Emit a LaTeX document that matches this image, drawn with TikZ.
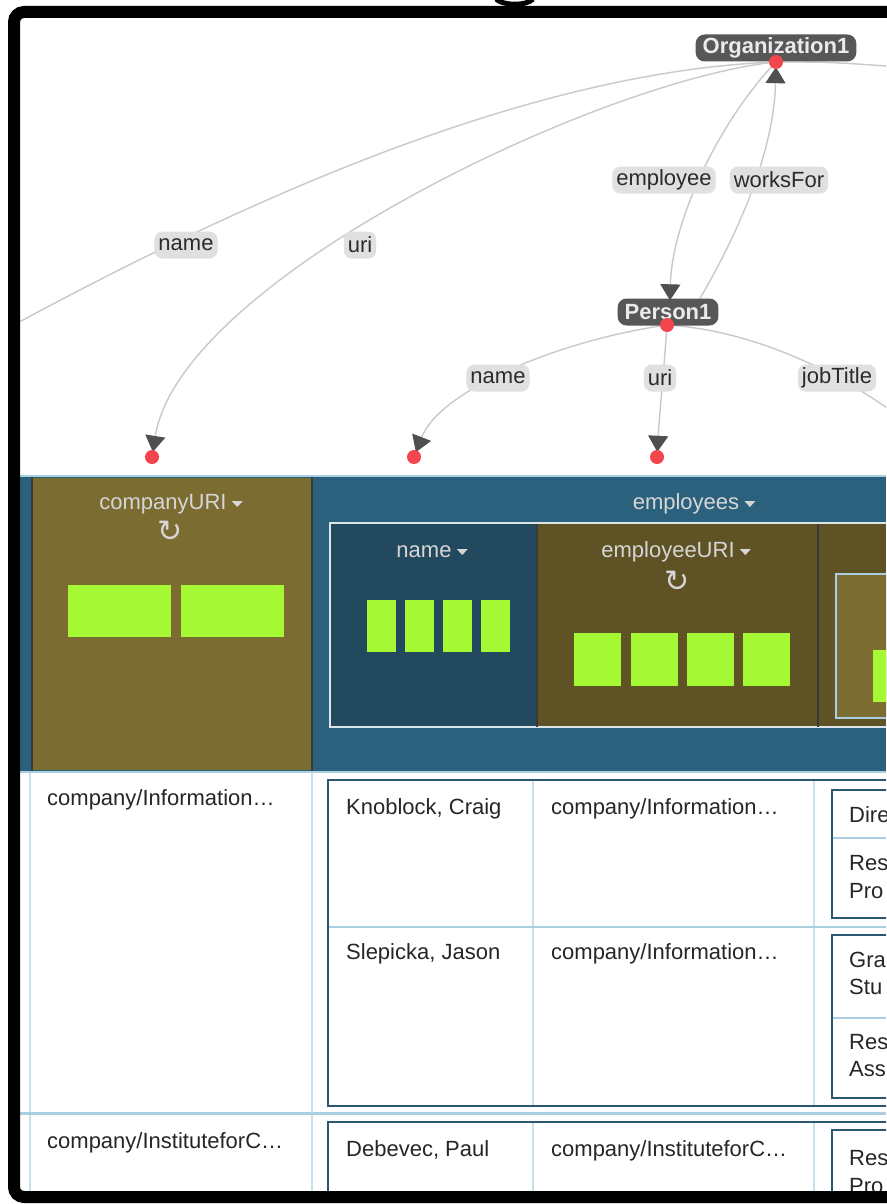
\documentclass[tikz,border=0pt]{standalone}
\usepackage{fontspec}
\setmainfont{Liberation Sans}
\newfontfamily\dejavu{DejaVu Sans}
\usetikzlibrary{arrows.meta}
\definecolor{edgegray}{HTML}{C9C9C9}
\definecolor{arrowgray}{HTML}{4F4F4F}
\definecolor{pillgray}{HTML}{E0E0E0}
\definecolor{pilltext}{HTML}{2B2B2B}
\definecolor{nodegray}{HTML}{575757}
\definecolor{nodetext}{HTML}{EBEBEB}
\definecolor{reddot}{HTML}{F2454D}
\definecolor{hdteal}{HTML}{2C617D}
\definecolor{olivehd}{HTML}{7B6C31}
\definecolor{navyhd}{HTML}{22495E}
\definecolor{darkolive}{HTML}{5F5326}
\definecolor{barg}{HTML}{A4F834}
\definecolor{hdrtext}{HTML}{D6D6D6}
\definecolor{lineblue}{HTML}{A9CFE0}
\definecolor{gridblue}{HTML}{C8E0EA}
\definecolor{boxteal}{HTML}{2B5870}
\definecolor{celltext}{HTML}{262626}
\definecolor{darkline}{HTML}{3A3A3A}
\definecolor{innerline}{HTML}{DCE6EA}
\newcommand\cfont{\fontsize{22}{26}\selectfont}
\pgfdeclarelayer{bglayer}
\pgfdeclarelayer{edgelayer}
\pgfsetlayers{bglayer,edgelayer,main}
\begin{document}
\begin{tikzpicture}[x=1pt,y=-1pt,
  edge/.style={draw=edgegray, line width=1.4pt},
  arr/.style={-{Triangle[width=20pt,length=16pt,color=arrowgray]}, shorten >=-2pt},
  pill/.style={fill=pillgray, rounded corners=8pt, text=pilltext, minimum height=27pt, inner xsep=4pt, inner ysep=0pt, font=\cfont},
  gnode/.style={fill=nodegray, rounded corners=9pt, text=nodetext, font=\bfseries\cfont, minimum height=27pt, inner xsep=7pt, inner ysep=0pt},
  rdot/.style={circle, fill=reddot, minimum size=14pt, inner sep=0pt},
  cell/.style={anchor=base west, text=celltext, font=\cfont, inner sep=0pt},
  hdr/.style={anchor=base, text=hdrtext, font=\cfont, inner sep=0pt},
  icon/.style={text=hdrtext, font=\dejavu\fontsize{30}{30}\selectfont, inner sep=0pt},
  caretshape/.style={fill=hdrtext},
  bar/.style={fill=barg}]
\useasboundingbox (0,0) rectangle (886,1204);
\begin{pgfonlayer}{bglayer}
\fill[white] (0,0) rectangle (886,1204);
\end{pgfonlayer}

% ---------- graph nodes ----------
\node[gnode] (org) at (776,48) {Organization1};
\node[gnode] (person) at (668,312) {Person1};
\node[rdot] (orgdot) at (776,62) {};
\node[rdot] (persondot) at (667,325) {};
\node[rdot] (cdot) at (152,457) {};
\node[rdot] (ndot) at (414,457) {};
\node[rdot] (udot) at (657,457) {};
\coordinate (lout) at (10,327);
\coordinate (rout) at (900,67);
\coordinate (jout) at (910,425);

\node[pill] (l-name1) at (186,245) {name};
\node[pill] (l-uri1) at (360,245) {uri};
\node[pill] (l-employee) at (664,180) {employee};
\node[pill] (l-worksfor) at (779,180) {worksFor};
\node[pill] (l-name2) at (498,378) {name};
\node[pill] (l-uri2) at (660,378) {uri};
\node[pill] (l-jobtitle) at (837,378) {jobTitle};

\begin{pgfonlayer}{edgelayer}
\begin{scope}
\clip (20,18) rectangle (886,476);
\draw[edge] (orgdot.center) .. controls (560,70) and (300,170) .. (lout);
\draw[edge,arr] (orgdot.center) .. controls (600,80) and (180,280) .. (cdot);
\draw[edge,arr] (orgdot.center) .. controls (720,120) and (672,220) .. ([xshift=2pt]person.north);
\draw[edge,arr] ([xshift=32pt]person.north) .. controls (740,230) and (774,150) .. (orgdot);
\draw[edge] (orgdot.center) .. controls (830,62) .. (rout);
\draw[edge,arr] (persondot.center) .. controls (560,340) and (440,390) .. (ndot);
\draw[edge,arr] (persondot.center) .. controls (664,370) and (659,420) .. (udot);
\draw[edge] (persondot.center) .. controls (750,330) and (840,370) .. (jout);
\end{scope}
\end{pgfonlayer}

% ---------- table ----------
\begin{scope}
\clip (20,18) rectangle (886,1192);
% header band
\fill[hdteal] (20,476) rectangle (886,771);
\draw[lineblue, line width=2pt] (20,476) -- (886,476);
\draw[lineblue, line width=2pt] (20,772) -- (886,772);
\fill[olivehd] (32,478) rectangle (312,770);
\draw[darkline, line width=2pt] (32,477) -- (32,771) (312,477) -- (312,771);
\node[hdr] (hcomp) at (163,509) {companyURI};
\fill[caretshape] ([xshift=5pt,yshift=8pt]hcomp.base east) -- ++(11,0) -- ++(-5.5,6) -- cycle;
\node[icon] (rcomp) at (170,531) {↻};
\fill[bar] (68,585) rectangle (171,637);
\fill[bar] (181,585) rectangle (284,637);
\node[hdr] (hemp) at (686,509) {employees};
\fill[caretshape] ([xshift=5pt,yshift=8pt]hemp.base east) -- ++(11,0) -- ++(-5.5,6) -- cycle;
% inner employees box
\fill[navyhd] (331,524) rectangle (537,727);
\fill[darkolive] (537,524) rectangle (886,727);
\draw[innerline, line width=2pt] (330,523) rectangle (900,727);
\draw[darkline, line width=2pt] (537,524) -- (537,727) (818,524) -- (818,727);
\node[hdr] (hname) at (424,557) {name};
\fill[caretshape] ([xshift=5pt,yshift=8pt]hname.base east) -- ++(11,0) -- ++(-5.5,6) -- cycle;
\fill[bar] (367,600) rectangle (396,652);
\fill[bar] (405,600) rectangle (434,652);
\fill[bar] (443,600) rectangle (472,652);
\fill[bar] (481,600) rectangle (510,652);
\node[hdr] (hempuri) at (668,557) {employeeURI};
\fill[caretshape] ([xshift=5pt,yshift=8pt]hempuri.base east) -- ++(11,0) -- ++(-5.5,6) -- cycle;
\node[icon] (rempuri) at (677,581) {↻};
\fill[bar] (574,633) rectangle (621,686);
\fill[bar] (631,633) rectangle (678,686);
\fill[bar] (687,633) rectangle (734,686);
\fill[bar] (743,633) rectangle (790,686);
\fill[olivehd, draw=lineblue, line width=1.5pt] (836,574) rectangle (900,718);
\fill[bar] (873,650) rectangle (900,702);

% data grid
\draw[gridblue, line width=1.5pt] (30,773) -- (30,1192) (312,773) -- (312,1192);
\draw[lineblue, line width=3pt] (20,1113) -- (886,1113);
% nested employees box 1
\draw[gridblue, line width=1.5pt] (533,781) -- (533,1105) (814,781) -- (814,1105);
\draw[lineblue, line width=2pt] (329,927) -- (886,927);
\draw[boxteal, line width=2pt] (328,780) rectangle (900,1106);
\draw[boxteal, line width=2pt] (832,790) rectangle (900,918);
\draw[lineblue, line width=2pt] (833,838) -- (886,838);
\draw[boxteal, line width=2pt] (832,935) rectangle (900,1098);
\draw[lineblue, line width=2pt] (833,1018) -- (886,1018);
% nested employees box 2
\draw[gridblue, line width=1.5pt] (533,1123) -- (533,1192) (814,1123) -- (814,1192);
\draw[boxteal, line width=2pt] (328,1122) rectangle (900,1230);
\draw[boxteal, line width=2pt] (832,1130) rectangle (900,1230);

\node[cell] (c1) at (47,805) {company/Information…};
\node[cell] (n1) at (346,814) {Knoblock, Craig};
\node[cell] (u1) at (551,814) {company/Information…};
\node[cell] (j1a) at (849,822) {Dire};
\node[cell] (j1b) at (849,870) {Res};
\node[cell] (j1c) at (849,898) {Pro};
\node[cell] (n2) at (346,959) {Slepicka, Jason};
\node[cell] (u2) at (551,959) {company/Information…};
\node[cell] (j2a) at (849,967) {Gra};
\node[cell] (j2b) at (849,994) {Stu};
\node[cell] (j2c) at (849,1049) {Res};
\node[cell] (j2d) at (849,1076) {Ass};
\node[cell] (c2) at (47,1148) {company/InstituteforC…};
\node[cell] (n3) at (346,1156) {Debevec, Paul};
\node[cell] (u3) at (551,1156) {company/InstituteforC…};
\node[cell] (j3a) at (849,1165) {Res};
\node[cell] (j3b) at (849,1193) {Pro};
\end{scope}

% ---------- frame ----------
\draw[black, line width=12pt, rounded corners=10pt] (14,12) rectangle (910,1197);
\draw[black, line width=5pt] (496,-1) .. controls (503,6) and (527,6) .. (533,-1);
\end{tikzpicture}
\end{document}
